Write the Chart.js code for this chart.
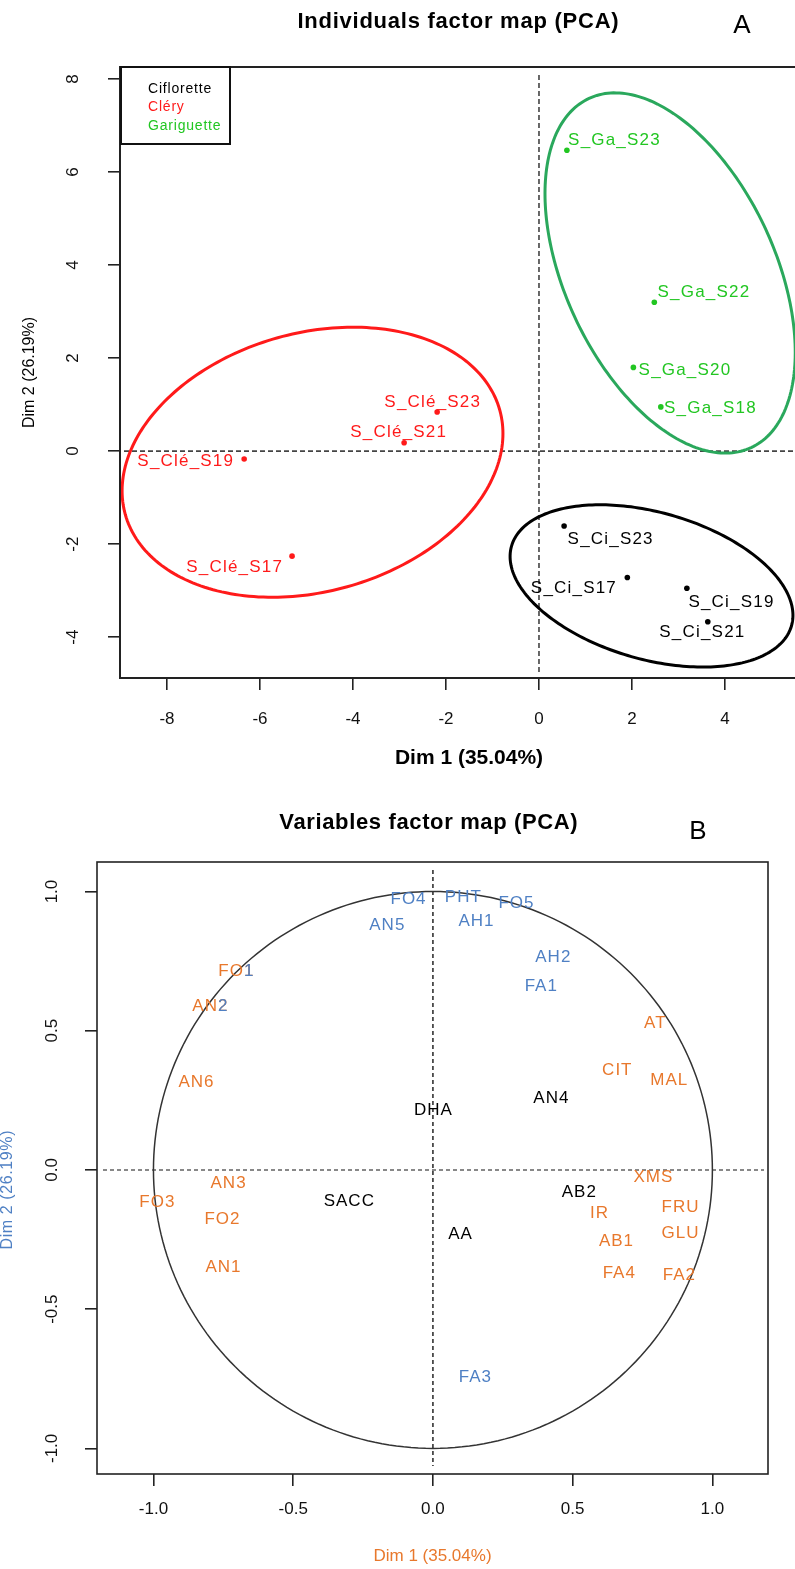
<!DOCTYPE html>
<html><head><meta charset="utf-8">
<script src="https://cdn.jsdelivr.net/npm/chart.js@4.4.1/dist/chart.umd.min.js"></script>
<style>
html,body{margin:0;padding:0;background:#fff;overflow:hidden;width:795px;height:1569px;}
#wa{position:absolute;left:0;top:0;width:830px;height:790px;}
#wb{position:absolute;left:0;top:790px;width:795px;height:779px;}
canvas{display:block;}
</style></head><body>
<div id="wa"><canvas id="ca" width="830" height="790"></canvas></div>
<div id="wb"><canvas id="cb" width="795" height="779"></canvas></div>
<script>
// ================= Panel A : individuals =================
const groupNames = ['Ciflorette', 'Cléry', 'Gariguette'];
const ciLabels = ['S_Ci_S17', 'S_Ci_S19', 'S_Ci_S21', 'S_Ci_S23'];
const ciDim1   = [1.90, 3.18, 3.63, 0.54];
const ciDim2   = [-2.72, -2.95, -3.67, -1.61];
const cleLabels = ['S_Clé_S17', 'S_Clé_S19', 'S_Clé_S21', 'S_Clé_S23'];
const cleDim1   = [-5.31, -6.34, -2.90, -2.19];
const cleDim2   = [-2.26, -0.17, 0.18, 0.84];
const gaLabels = ['S_Ga_S18', 'S_Ga_S20', 'S_Ga_S22', 'S_Ga_S23'];
const gaDim1   = [2.62, 2.03, 2.48, 0.60];
const gaDim2   = [0.95, 1.80, 3.20, 6.47];
// confidence ellipses per group (Ciflorette, Cléry, Gariguette)
const ellCentreX   = [2.42, -4.87, 2.82];
const ellCentreY   = [-2.90, -0.24, 3.83];
const ellSemiMajor = [3.13, 4.18, 4.14];
const ellSemiMinor = [1.58, 2.78, 2.26];
const ellAngleDeg  = [-15.9, 15.6, -65.1];
const ticksAx = [-8, -6, -4, -2, 0, 2, 4];
const ticksAy = [-4, -2, 0, 2, 4, 6, 8];

// ================= Panel B : variables =================
const orangeVars = ['FO1','AN2','AN6','AN3','FO3','FO2','AN1','AT','CIT','MAL','XMS','FRU','IR','GLU','AB1','FA4','FA2'];
const orangeDim1 = [-0.705,-0.798,-0.848,-0.733,-0.988,-0.755,-0.751,0.794,0.658,0.844,0.787,0.884,0.594,0.884,0.655,0.665,0.880];
const orangeDim2 = [0.715,0.589,0.316,-0.047,-0.118,-0.176,-0.348,0.527,0.359,0.323,-0.025,-0.133,-0.154,-0.226,-0.255,-0.370,-0.377];
const blueVars = ['FO4','PHT','FO5','AN5','AH1','AH2','FA1','FA3'];
const blueDim1 = [-0.089,0.107,0.297,-0.165,0.154,0.429,0.386,0.150];
const blueDim2 = [0.973,0.980,0.958,0.880,0.894,0.765,0.661,-0.743];
const blackVars = ['DHA','AN4','SACC','AB2','AA'];
const blackDim1 = [0.000,0.422,-0.301,0.522,0.097];
const blackDim2 = [0.215,0.259,-0.111,-0.079,-0.230];
const ticksB = [-1.0, -0.5, 0.0, 0.5, 1.0];

// ================= styling / layout =================
const FAM = "'Liberation Sans', Arial, sans-serif";
const RED = '#ff1a1a', GREEN_TXT = '#22c622', GREEN_ELL = '#2aa85c', BLACK = '#000';
const ORANGE = '#e8782c', BLUE = '#4f80c4';
// label centre offsets (px) from each individual's point
const labelShiftA = {
  'S_Ci_S17':[-54,11], 'S_Ci_S19':[44,14], 'S_Ci_S21':[-6,11], 'S_Ci_S23':[46,13],
  'S_Clé_S17':[-58,11], 'S_Clé_S19':[-59,2], 'S_Clé_S21':[-6,-10], 'S_Clé_S23':[-5,-10],
  'S_Ga_S18':[49,1], 'S_Ga_S20':[51,3], 'S_Ga_S22':[49,-10], 'S_Ga_S23':[47,-10]
};
const blueTail = {'FO1':1, 'AN2':1};

function pts(xs, ys){ return xs.map((x,i)=>({x:x, y:ys[i]})); }

function fitText(ctx, text, cx, cy, font, width, color){
  ctx.save();
  ctx.font = font; ctx.letterSpacing = '0px';
  const w = ctx.measureText(text).width;
  const n = [...text].length;
  const ls = (width - w) / n;
  ctx.letterSpacing = ls + 'px';
  ctx.textAlign = 'left'; ctx.textBaseline = 'middle'; ctx.fillStyle = color;
  ctx.fillText(text, cx - (width - ls)/2, cy);
  ctx.restore();
}
function spacedText(ctx, text, cx, cy, font, ls, color, rot){
  ctx.save();
  ctx.font = font; ctx.letterSpacing = ls + 'px';
  ctx.fillStyle = color; ctx.textAlign = 'center'; ctx.textBaseline = 'middle';
  ctx.translate(cx, cy); if (rot) ctx.rotate(rot);
  ctx.fillText(text, ls/2, 0);
  ctx.restore();
}
function ellipsePath(ctx, xs, ys, cx, cy, a, b, deg){
  const t = deg*Math.PI/180;
  ctx.beginPath();
  for (let i=0;i<=240;i++){
    const u = i/240*2*Math.PI;
    const ex = a*Math.cos(u), ey = b*Math.sin(u);
    const X = cx + ex*Math.cos(t) - ey*Math.sin(t);
    const Y = cy + ex*Math.sin(t) + ey*Math.cos(t);
    const px = xs.getPixelForValue(X), py = ys.getPixelForValue(Y);
    if (i===0) ctx.moveTo(px,py); else ctx.lineTo(px,py);
  }
  ctx.closePath();
}
function dashedZero(ctx, chart, colV, colH, dash, lw){
  const {left,right,top,bottom} = chart.chartArea;
  const x0 = chart.scales.x.getPixelForValue(0), y0 = chart.scales.y.getPixelForValue(0);
  ctx.save();
  ctx.setLineDash(dash); ctx.lineWidth = lw;
  ctx.strokeStyle = colV; ctx.beginPath(); ctx.moveTo(x0, top+8); ctx.lineTo(x0, bottom-6); ctx.stroke();
  ctx.strokeStyle = colH; ctx.beginPath(); ctx.moveTo(left+4, y0); ctx.lineTo(right-2, y0); ctx.stroke();
  ctx.restore();
}

// ---------- Panel A plugin ----------
const ellColours = [BLACK, RED, GREEN_ELL];
const textColoursA = [BLACK, RED, GREEN_TXT];
const labelSetsA = [ciLabels, cleLabels, gaLabels];
const plugA = {
  id:'plugA',
  beforeDatasetsDraw(chart){
    const ctx = chart.ctx, xs = chart.scales.x, ys = chart.scales.y, ca = chart.chartArea;
    dashedZero(ctx, chart, '#444', '#444', [5,3], 1.6);
    ctx.save();
    ctx.beginPath(); ctx.rect(ca.left, ca.top, ca.right-ca.left, ca.bottom-ca.top); ctx.clip();
    for (let g=0; g<3; g++){
      ellipsePath(ctx, xs, ys, ellCentreX[g], ellCentreY[g], ellSemiMajor[g], ellSemiMinor[g], ellAngleDeg[g]);
      ctx.lineWidth = 3; ctx.strokeStyle = ellColours[g]; ctx.stroke();
    }
    ctx.restore();
  },
  afterDatasetsDraw(chart){
    const ctx = chart.ctx, ca = chart.chartArea;
    for (let g=0; g<3; g++){
      const meta = chart.getDatasetMeta(g);
      meta.data.forEach((el, i)=>{
        const name = labelSetsA[g][i];
        const sh = labelShiftA[name] || [0,-10];
        spacedText(ctx, name, el.x + sh[0], el.y + sh[1], '17px '+FAM, 1.2, textColoursA[g]);
      });
    }
    ctx.save();
    ctx.strokeStyle = '#222'; ctx.lineWidth = 2;
    ctx.strokeRect(ca.left, ca.top, ca.right-ca.left, ca.bottom-ca.top);
    ctx.lineWidth = 2; ctx.strokeStyle = '#111';
    ctx.strokeRect(ca.left+1, ca.top, 109, 77);
    ctx.restore();
    groupNames.forEach((nm, g)=>{
      ctx.save();
      ctx.font = '14px '+FAM; ctx.letterSpacing = '0.8px';
      ctx.fillStyle = textColoursA[g]; ctx.textAlign='left'; ctx.textBaseline='middle';
      ctx.fillText(nm, ca.left + 28, ca.top + 22 + g*18.5);
      ctx.restore();
    });
    fitText(ctx, 'Individuals factor map (PCA)', 458, 22, 'bold 22px '+FAM, 322, '#000');
    spacedText(ctx, 'A', 742, 26, '26px '+FAM, 0, '#000');
  }
};

const commonTicks = (extra)=>Object.assign({font:{family:FAM, size:17}, color:'#111'}, extra);
const gridOpts = {drawOnChartArea:false, drawTicks:true, tickLength:12, color:'#222', lineWidth:1.6};

new Chart(document.getElementById('ca'), {
  type:'scatter',
  data:{ datasets:[
    {label:groupNames[0], data:pts(ciDim1, ciDim2), backgroundColor:BLACK, borderColor:BLACK, borderWidth:0, pointRadius:2.8, pointHoverRadius:2.8},
    {label:groupNames[1], data:pts(cleDim1, cleDim2), backgroundColor:RED, borderColor:RED, borderWidth:0, pointRadius:2.8, pointHoverRadius:2.8},
    {label:groupNames[2], data:pts(gaDim1, gaDim2), backgroundColor:GREEN_TXT, borderColor:GREEN_TXT, borderWidth:0, pointRadius:2.8, pointHoverRadius:2.8}
  ]},
  options:{
    responsive:false, animation:false, events:[],
    layout:{padding:{left:0, top:67, right:12, bottom:0}},
    plugins:{legend:{display:false}, tooltip:{enabled:false}},
    scales:{
      x:{type:'linear', min:-9.01, max:6.0,
        afterFit(s){ s.height = 112; },
        afterBuildTicks(s){ s.ticks = ticksAx.map(v=>({value:v})); },
        grid:gridOpts, border:{display:false},
        ticks:commonTicks({padding:19, maxRotation:0, minRotation:0, callback:v=>String(v)}),
        title:{display:true, text:'Dim 1 (35.04%)', color:'#000', font:{family:FAM, size:21, weight:'bold'}, padding:{top:0, bottom:19}}
      },
      y:{type:'linear', min:-4.88, max:8.26,
        afterFit(s){ s.width = 120; },
        afterBuildTicks(s){ s.ticks = ticksAy.map(v=>({value:v})); },
        grid:gridOpts, border:{display:false},
        ticks:commonTicks({padding:27, minRotation:90, maxRotation:90, crossAlign:'center', callback:v=>String(v)}),
        title:{display:true, text:'Dim 2 (26.19%)', color:'#000', font:{family:FAM, size:16}, padding:{top:20, bottom:0}}
      }
    }
  },
  plugins:[plugA]
});

// ---------- Panel B plugin ----------
const textColoursB = [ORANGE, BLUE, BLACK];
const labelSetsB = [orangeVars, blueVars, blackVars];
const plugB = {
  id:'plugB',
  beforeDatasetsDraw(chart){
    const ctx = chart.ctx, xs = chart.scales.x, ys = chart.scales.y;
    const x0 = xs.getPixelForValue(0), y0 = ys.getPixelForValue(0), ca = chart.chartArea;
    ctx.save();
    ctx.setLineDash([4,3]);
    ctx.lineWidth = 1.6; ctx.strokeStyle = '#333';
    ctx.beginPath(); ctx.moveTo(x0, ca.top+8); ctx.lineTo(x0, ca.bottom-8); ctx.stroke();
    ctx.lineWidth = 2; ctx.strokeStyle = '#888';
    ctx.beginPath(); ctx.moveTo(ca.left+6, y0); ctx.lineTo(ca.right-4, y0); ctx.stroke();
    ctx.setLineDash([]);
    ellipsePath(ctx, xs, ys, 0, 0, 1, 1, 0);
    ctx.lineWidth = 1.5; ctx.strokeStyle = '#333'; ctx.stroke();
    ctx.restore();
  },
  afterDatasetsDraw(chart){
    const ctx = chart.ctx, ca = chart.chartArea;
    for (let g=0; g<3; g++){
      const meta = chart.getDatasetMeta(g);
      meta.data.forEach((el, i)=>{
        const name = labelSetsB[g][i];
        spacedText(ctx, name, el.x, el.y, '17px '+FAM, 1, textColoursB[g]);
        if (blueTail[name]){
          ctx.save();
          ctx.font = '17px '+FAM; ctx.letterSpacing = '1px';
          const full = ctx.measureText(name).width;
          const head = ctx.measureText(name.slice(0, name.length - blueTail[name])).width;
          ctx.fillStyle = BLUE; ctx.textAlign='left'; ctx.textBaseline='middle';
          ctx.fillText(name.slice(name.length - blueTail[name]), el.x - full/2 + 0.5 + head, el.y);
          ctx.restore();
        }
      });
    }
    ctx.save();
    ctx.strokeStyle = '#222'; ctx.lineWidth = 1.6;
    ctx.strokeRect(ca.left, ca.top, ca.right-ca.left, ca.bottom-ca.top);
    ctx.restore();
    fitText(ctx, 'Variables factor map (PCA)', 428.5, 33, 'bold 22px '+FAM, 299, '#000');
    spacedText(ctx, 'B', 698, 42, '26px '+FAM, 0, '#000');
    spacedText(ctx, 'Dim 2 (26.19%)', 8, 400, '16px '+FAM, 0.6, BLUE, -Math.PI/2);
  }
};

new Chart(document.getElementById('cb'), {
  type:'scatter',
  data:{ datasets:[
    {label:'orange', data:pts(orangeDim1, orangeDim2), pointRadius:0, pointHoverRadius:0, backgroundColor:ORANGE},
    {label:'blue', data:pts(blueDim1, blueDim2), pointRadius:0, pointHoverRadius:0, backgroundColor:BLUE},
    {label:'black', data:pts(blackDim1, blackDim2), pointRadius:0, pointHoverRadius:0, backgroundColor:BLACK}
  ]},
  options:{
    responsive:false, animation:false, events:[],
    layout:{padding:{left:0, top:72, right:27, bottom:0}},
    plugins:{legend:{display:false}, tooltip:{enabled:false}},
    scales:{
      x:{type:'linear', min:-1.202, max:1.199,
        afterFit(s){ s.height = 95; },
        afterBuildTicks(s){ s.ticks = ticksB.map(v=>({value:v})); },
        grid:gridOpts, border:{display:false},
        ticks:commonTicks({padding:13, maxRotation:0, minRotation:0, callback:v=>Number(v).toFixed(1)}),
        title:{display:true, text:'Dim 1 (35.04%)', color:ORANGE, font:{family:FAM, size:17}, padding:{top:0, bottom:2}}
      },
      y:{type:'linear', min:-1.092, max:1.106,
        afterFit(s){ s.width = 97; },
        afterBuildTicks(s){ s.ticks = ticksB.map(v=>({value:v})); },
        grid:gridOpts, border:{display:false},
        ticks:commonTicks({padding:18, minRotation:90, maxRotation:90, crossAlign:'center', callback:v=>Number(v).toFixed(1)}),
        title:{display:false}
      }
    }
  },
  plugins:[plugB]
});
</script>
</body></html>
